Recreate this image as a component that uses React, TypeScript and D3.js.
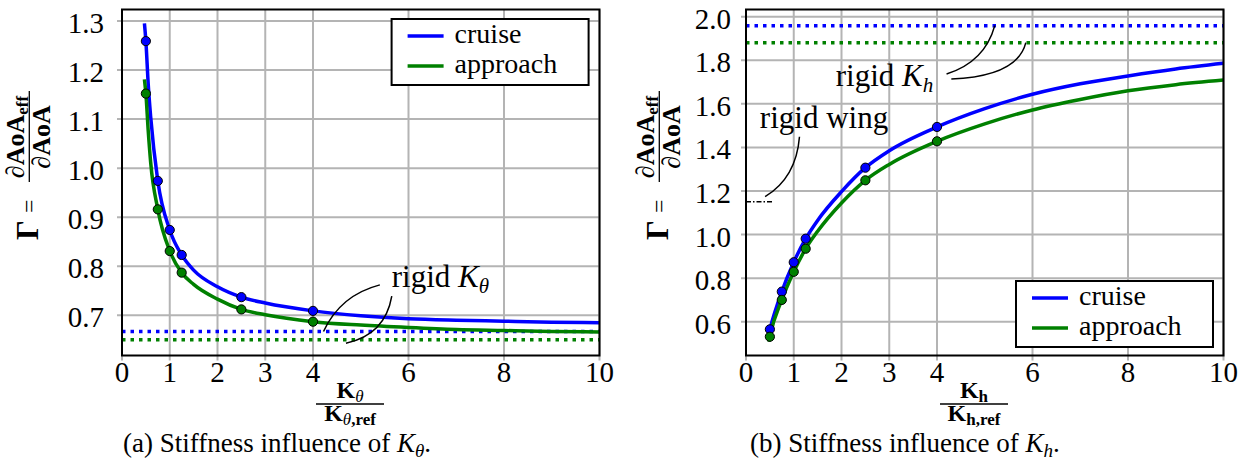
import React from "react";
import * as d3 from "d3";

// stiffness ratios where the simulations were run
const kRatios = [0.5, 0.75, 1, 1.25, 2.5, 4];

// (a) K_theta
const thetaCruisePts = [1.259, 0.974, 0.874, 0.823, 0.737, 0.709];
const thetaApproachPts = [1.152, 0.916, 0.831, 0.787, 0.712, 0.687];
const thetaCurveX = [0.47, 0.5, 0.55, 0.6, 0.75, 1, 1.25, 1.5, 2, 2.5, 3, 4, 5, 6, 7, 8, 9, 10];
const thetaCruiseCurve = [1.295, 1.259, 1.17, 1.105, 0.974, 0.874, 0.823, 0.792, 0.758, 0.737, 0.725, 0.709, 0.699, 0.693, 0.69, 0.688, 0.686, 0.685];
const thetaApproachCurve = [1.181, 1.152, 1.075, 1.012, 0.916, 0.831, 0.787, 0.763, 0.733, 0.712, 0.701, 0.687, 0.68, 0.675, 0.671, 0.669, 0.667, 0.666];
const thetaRigid = [0.667, 0.65]; // cruise, approach
const thetaYTicks = [0.7, 0.8, 0.9, 1.0, 1.1, 1.2, 1.3];

// (b) K_h
const hCruisePts = [0.565, 0.738, 0.873, 0.981, 1.307, 1.494];
const hApproachPts = [0.531, 0.7, 0.829, 0.935, 1.249, 1.428];
const hCurveX = [0.48, 0.5, 0.75, 1, 1.25, 1.5, 2, 2.5, 3, 4, 5, 6, 7, 8, 9, 10];
const hCruiseCurve = [0.548, 0.565, 0.738, 0.873, 0.981, 1.065, 1.197, 1.307, 1.385, 1.494, 1.578, 1.644, 1.692, 1.728, 1.76, 1.786];
const hApproachCurve = [0.508, 0.531, 0.7, 0.829, 0.935, 1.015, 1.145, 1.249, 1.322, 1.428, 1.508, 1.572, 1.62, 1.66, 1.688, 1.709];
const hRigid = [1.959, 1.881];
const rigidWing = 1.151;
const rigidWingX = [0, 0.55];
const hYTicks = [0.6, 0.8, 1.0, 1.2, 1.4, 1.6, 1.8, 2.0];

const xTicks = [0, 1, 2, 3, 4, 6, 8, 10];
const seriesNames = ["cruise", "approach"];
const colors = ["#0000ff", "#008000"];

const FONT = "'Liberation Serif', serif";
const GRID = "#b4b4b4";

const YLabel = ({ x }) => (
  <g transform={`translate(${x},240) rotate(-90)`} fontFamily={FONT}>
    <text x={0} y={9} fontSize={31} fontWeight="bold">Γ</text>
    <text x={27} y={8} fontSize={24}>=</text>
    <line x1={58} x2={149} y1={0} y2={0} stroke="#000" strokeWidth={1.3} />
    <text x={103} y={-5} fontSize={26} textAnchor="middle">
      ∂<tspan fontWeight="bold">AoA</tspan>
      <tspan fontWeight="bold" fontSize={17} dy={4}>eff</tspan>
    </text>
    <text x={103} y={21} fontSize={26} textAnchor="middle">
      ∂<tspan fontWeight="bold">AoA</tspan>
    </text>
  </g>
);

const XLabel = ({ cx, sub, subBold }) => (
  <g fontFamily={FONT} textAnchor="middle">
    <text x={cx} y={398} fontSize={24}>
      <tspan fontWeight="bold">K</tspan>
      <tspan fontSize={17} dy={4} fontWeight={subBold ? "bold" : "normal"} fontStyle={subBold ? "normal" : "italic"}>{sub}</tspan>
    </text>
    <line x1={cx - 34} x2={cx + 34} y1={404} y2={404} stroke="#000" strokeWidth={1.3} />
    <text x={cx} y={421} fontSize={24}>
      <tspan fontWeight="bold">K</tspan>
      <tspan fontSize={17} dy={4} fontWeight={subBold ? "bold" : "normal"} fontStyle={subBold ? "normal" : "italic"}>{sub}</tspan>
      <tspan fontSize={17} fontWeight="bold">,ref</tspan>
    </text>
  </g>
);

const Legend = ({ x, y }) => (
  <g fontFamily={FONT}>
    <rect x={x} y={y} width={197} height={66} fill="#fff" stroke="#000" strokeWidth={2} />
    {seriesNames.map((n, i) => (
      <g key={n}>
        <line x1={x + 16} x2={x + 52} y1={y + 17 + i * 30} y2={y + 17 + i * 30} stroke={colors[i]} strokeWidth={3.5} />
        <text x={x + 63} y={y + 24 + i * 30} fontSize={28}>{n}</text>
      </g>
    ))}
  </g>
);

const Panel = ({ left, right, yDomain, yRange, yTicks, yFmt, labelPad, curveX, curves, pts, rigid, children }) => {
  const x = d3.scaleLinear().domain([0, 10]).range([left, right]);
  const y = d3.scaleLinear().domain(yDomain).range(yRange);
  const top = 9.5, bottom = 355.5;
  const line = d3
    .line()
    .x(d => x(d[0]))
    .y(d => y(d[1]))
    .curve(d3.curveMonotoneX);
  return (
    <g>
      {yTicks.map(t => (
        <line key={"gy" + t} x1={left - 5} x2={right} y1={y(t)} y2={y(t)} stroke={GRID} strokeWidth={2} />
      ))}
      {xTicks.map(t => (
        <line key={"gx" + t} x1={x(t)} x2={x(t)} y1={top} y2={bottom + 5} stroke={GRID} strokeWidth={2} />
      ))}
      {rigid.map((v, i) => (
        <line key={"r" + i} x1={x(0)} x2={x(10)} y1={y(v)} y2={y(v)} stroke={colors[i]} strokeWidth={3.5} strokeDasharray="3.5 5" />
      ))}
      {curves.map((c, i) => (
        <path key={"c" + i} d={line(curveX.map((v, j) => [v, c[j]]))} fill="none" stroke={colors[i]} strokeWidth={3.5} />
      ))}
      {pts.map((p, i) =>
        p.map((v, j) => (
          <circle key={"p" + i + j} cx={x(kRatios[j])} cy={y(v)} r={4.6} fill={colors[i]} stroke="#000" strokeWidth={1} />
        ))
      )}
      <rect x={left} y={top} width={right - left} height={bottom - top} fill="none" stroke="#000" strokeWidth={2} />
      <g fontFamily={FONT} fontSize={29}>
        {xTicks.map(t => (
          <text key={"tx" + t} x={x(t)} y={381.5} textAnchor="middle">{t}</text>
        ))}
        {yTicks.map(t => (
          <text key={"ty" + t} x={left - labelPad} y={y(t) + 12} textAnchor="end">{yFmt(t)}</text>
        ))}
      </g>
      {children(x, y)}
    </g>
  );
};

const fmt1 = d3.format(".1f");

export default function App() {
  return (
    <svg width={1246} height={463} style={{ position: "absolute", left: 0, top: 0, background: "#fff" }}>
      <Panel
        left={122}
        right={599.5}
        yDomain={[0.7, 1.3]}
        yRange={[315.3, 21]}
        yTicks={thetaYTicks}
        yFmt={fmt1}
        labelPad={18}
        curveX={thetaCurveX}
        curves={[thetaCruiseCurve, thetaApproachCurve]}
        pts={[thetaCruisePts, thetaApproachPts]}
        rigid={thetaRigid}
      >
        {(x, y) => (
          <g>
            <path
              d={`M${x(5.4)},${y(0.762)} Q${x(4.57)},${y(0.741)} ${x(4.22)},${y(thetaRigid[0])}`}
              fill="none" stroke="#000" strokeWidth={1.5}
            />
            <path
              d={`M${x(5.65)},${y(0.739)} Q${x(5.51)},${y(0.66)} ${x(4.69)},${y(0.643)}`}
              fill="none" stroke="#000" strokeWidth={1.5}
            />
            <text x={x(5.65)} y={y(0.757)} fontFamily={FONT} fontSize={31}>
              rigid <tspan fontStyle="italic">K</tspan>
              <tspan fontStyle="italic" fontSize={21} dy={6}>θ</tspan>
            </text>
            <Legend x={391.6} y={19} />
          </g>
        )}
      </Panel>
      <YLabel x={29.3} />
      <XLabel cx={350} sub="θ" subBold={false} />
      <text x={123} y={451.7} fontFamily={FONT} fontSize={27}>
        (a) Stiffness influence of <tspan fontStyle="italic">K</tspan>
        <tspan fontStyle="italic" fontSize={19} dy={5}>θ</tspan>
        <tspan dy={-5}>.</tspan>
      </text>

      <Panel
        left={746}
        right={1223.5}
        yDomain={[0.6, 2.0]}
        yRange={[321.7, 16.7]}
        yTicks={hYTicks}
        yFmt={fmt1}
        labelPad={15}
        curveX={hCurveX}
        curves={[hCruiseCurve, hApproachCurve]}
        pts={[hCruisePts, hApproachPts]}
        rigid={hRigid}
      >
        {(x, y) => (
          <g>
            <line x1={x(rigidWingX[0])} x2={x(rigidWingX[1])} y1={y(rigidWing)} y2={y(rigidWing)} stroke="#000" strokeWidth={1.5} strokeDasharray="5 2 1.5 2" />
            <path
              d={`M${x(4.2)},${y(1.737)} Q${x(5.0)},${y(1.792)} ${x(5.21)},${y(hRigid[0])}`}
              fill="none" stroke="#000" strokeWidth={1.5}
            />
            <path
              d={`M${x(4.3)},${y(1.714)} Q${x(5.69)},${y(1.728)} ${x(5.86)},${y(hRigid[1])}`}
              fill="none" stroke="#000" strokeWidth={1.5}
            />
            <path
              d={`M${x(1.12)},${y(1.449)} Q${x(1.05)},${y(1.26)} ${x(0.4)},${y(1.174)}`}
              fill="none" stroke="#000" strokeWidth={1.5}
            />
            <text x={x(1.88)} y={y(1.682)} fontFamily={FONT} fontSize={31}>
              rigid <tspan fontStyle="italic">K</tspan>
              <tspan fontStyle="italic" fontSize={21} dy={6}>h</tspan>
            </text>
            <text x={x(0.29)} y={y(1.488)} fontFamily={FONT} fontSize={31}>rigid wing</text>
            <Legend x={1016} y={281} />
          </g>
        )}
      </Panel>
      <YLabel x={659.3} />
      <XLabel cx={974} sub="h" subBold={true} />
      <text x={750} y={451.7} fontFamily={FONT} fontSize={27}>
        (b) Stiffness influence of <tspan fontStyle="italic">K</tspan>
        <tspan fontStyle="italic" fontSize={19} dy={5}>h</tspan>
        <tspan dy={-5}>.</tspan>
      </text>
    </svg>
  );
}
